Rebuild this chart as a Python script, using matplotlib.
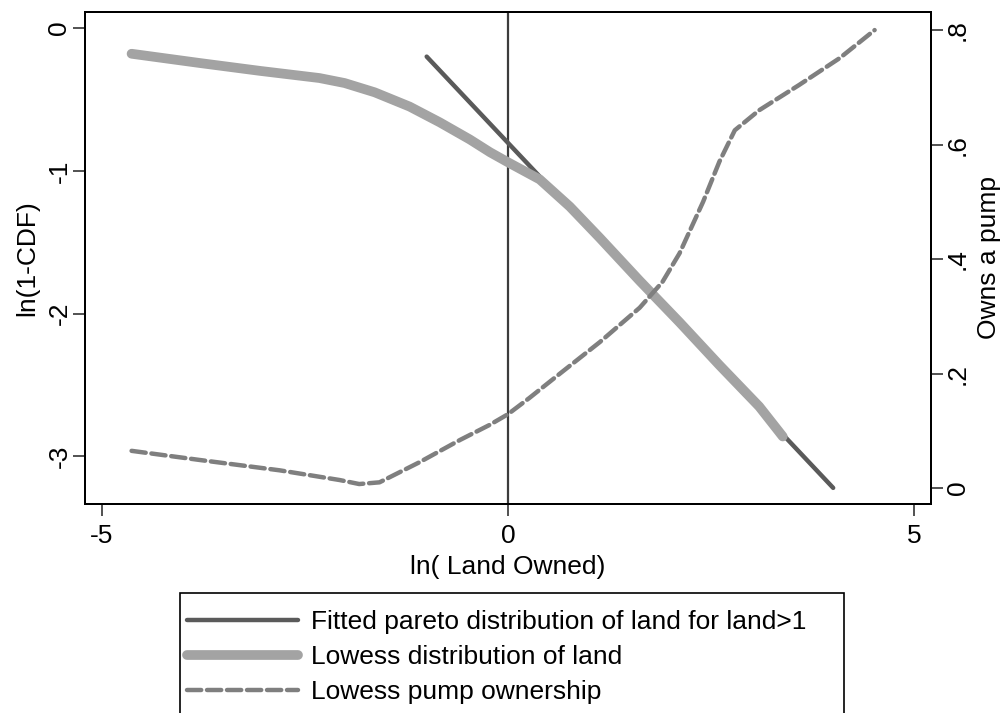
import matplotlib
matplotlib.use("Agg")
import matplotlib.pyplot as plt
from matplotlib.lines import Line2D
from matplotlib.patches import Rectangle

plt.rcParams['font.family'] = ['Liberation Sans', 'DejaVu Sans']

# Fitted pareto line (ln land, ln(1-CDF))
pareto_x = [-1.0, 4.0]
pareto_y = [-0.20, -3.22]

# Lowess distribution of land
land_x = [-4.63, -3.79, -3.05, -2.32, -2.01, -1.64, -1.21, -0.84, -0.47, -0.22, 0.0,
          0.39, 0.76, 1.13, 1.62, 2.11, 2.60, 3.09, 3.38]
land_y = [-0.18, -0.245, -0.30, -0.35, -0.385, -0.45, -0.55, -0.66, -0.78, -0.87, -0.94,
          -1.06, -1.25, -1.47, -1.77, -2.06, -2.36, -2.65, -2.86]

# Lowess pump ownership (right axis)
pump_x = [-4.63, -3.79, -2.81, -2.07, -1.83, -1.58, -1.09, -0.59, -0.23, 0.0, 0.26,
          0.64, 1.13, 1.62, 1.90, 2.11, 2.40, 2.60, 2.79, 3.09, 3.58, 4.08, 4.51]
pump_y = [0.065, 0.049, 0.031, 0.014, 0.007, 0.010, 0.045, 0.084, 0.110, 0.129, 0.157,
          0.200, 0.255, 0.315, 0.360, 0.410, 0.500, 0.570, 0.625, 0.660, 0.704, 0.751, 0.80]

xticks = [-5, 0, 5]
xticklabels = ['-5', '0', '5']
lticks = [0, -1, -2, -3]
lticklabels = ['0', '-1', '-2', '-3']
rticks = [0, 0.2, 0.4, 0.6, 0.8]
rticklabels = ['0', '.2', '.4', '.6', '.8']

FS = 19
fig = plt.figure(figsize=(10.08, 7.13), dpi=100)
ax = fig.add_axes([0.0840, 0.2935, 0.8399, 0.690])
ax2 = ax.twinx()

ax.axvline(0, color='#3c3c3c', lw=1.6, zorder=1)
l1, = ax.plot(pareto_x, pareto_y, color='#5a5a5a', lw=3.2, solid_capstyle='round', zorder=2)
l2, = ax.plot(land_x, land_y, color='#a3a3a3', lw=7.0, solid_capstyle='round', zorder=3)
l3, = ax2.plot(pump_x, pump_y, color='#7f7f7f', lw=3.2, dashes=(3.2, 1.3), dash_capstyle='round', zorder=4)

ax.set_xlim(-5.207, 5.207)
ax.set_ylim(-3.331, 0.114)
ax2.set_ylim(-0.0274, 0.832)

ax.set_xticks(xticks)
ax.set_xticklabels(xticklabels)
ax.set_yticks(lticks)
ax.set_yticklabels(lticklabels, rotation=90, va='center')
ax2.set_yticks(rticks)
ax2.set_yticklabels(rticklabels, rotation=90, va='center')

for a in (ax, ax2):
    a.tick_params(direction='out', length=8.5, width=1.2, labelsize=FS, color='#333333')
    for s in a.spines.values():
        s.set_linewidth(1.4)
ax.tick_params(axis='x', pad=6)
ax.tick_params(axis='y', pad=1)
ax2.tick_params(axis='y', pad=2)

ax.set_xlabel('ln( Land Owned)', fontsize=FS, labelpad=5)
ax.set_ylabel('ln(1-CDF)', fontsize=FS, labelpad=6)
ax2.set_ylabel('Owns a pump', fontsize=FS, labelpad=5)

h1 = Line2D([], [], color='#5a5a5a', lw=3.2, solid_capstyle='round')
h2 = Line2D([], [], color='#a3a3a3', lw=7.0, solid_capstyle='round')
h3 = Line2D([], [], color='#7f7f7f', lw=3.2, dashes=(3.2, 1.3), dash_capstyle='round')
leg = fig.legend([h1, h2, h3],
                 ['Fitted pareto distribution of land for land>1',
                  'Lowess distribution of land',
                  'Lowess pump ownership'],
                 loc='upper left', bbox_to_anchor=(179.5 / 1008, 1 - 602 / 713),
                 frameon=False, fontsize=FS, handlelength=4.2, handletextpad=0.5,
                 labelspacing=0.42, borderaxespad=0, borderpad=0.3)
fig.add_artist(Rectangle((179.5 / 1008, -0.05), (844 - 179.5) / 1008, (713 - 593) / 713 + 0.05,
                         transform=fig.transFigure, fill=False, edgecolor='black', lw=1.2))

fig.savefig('out.png', dpi=100)
